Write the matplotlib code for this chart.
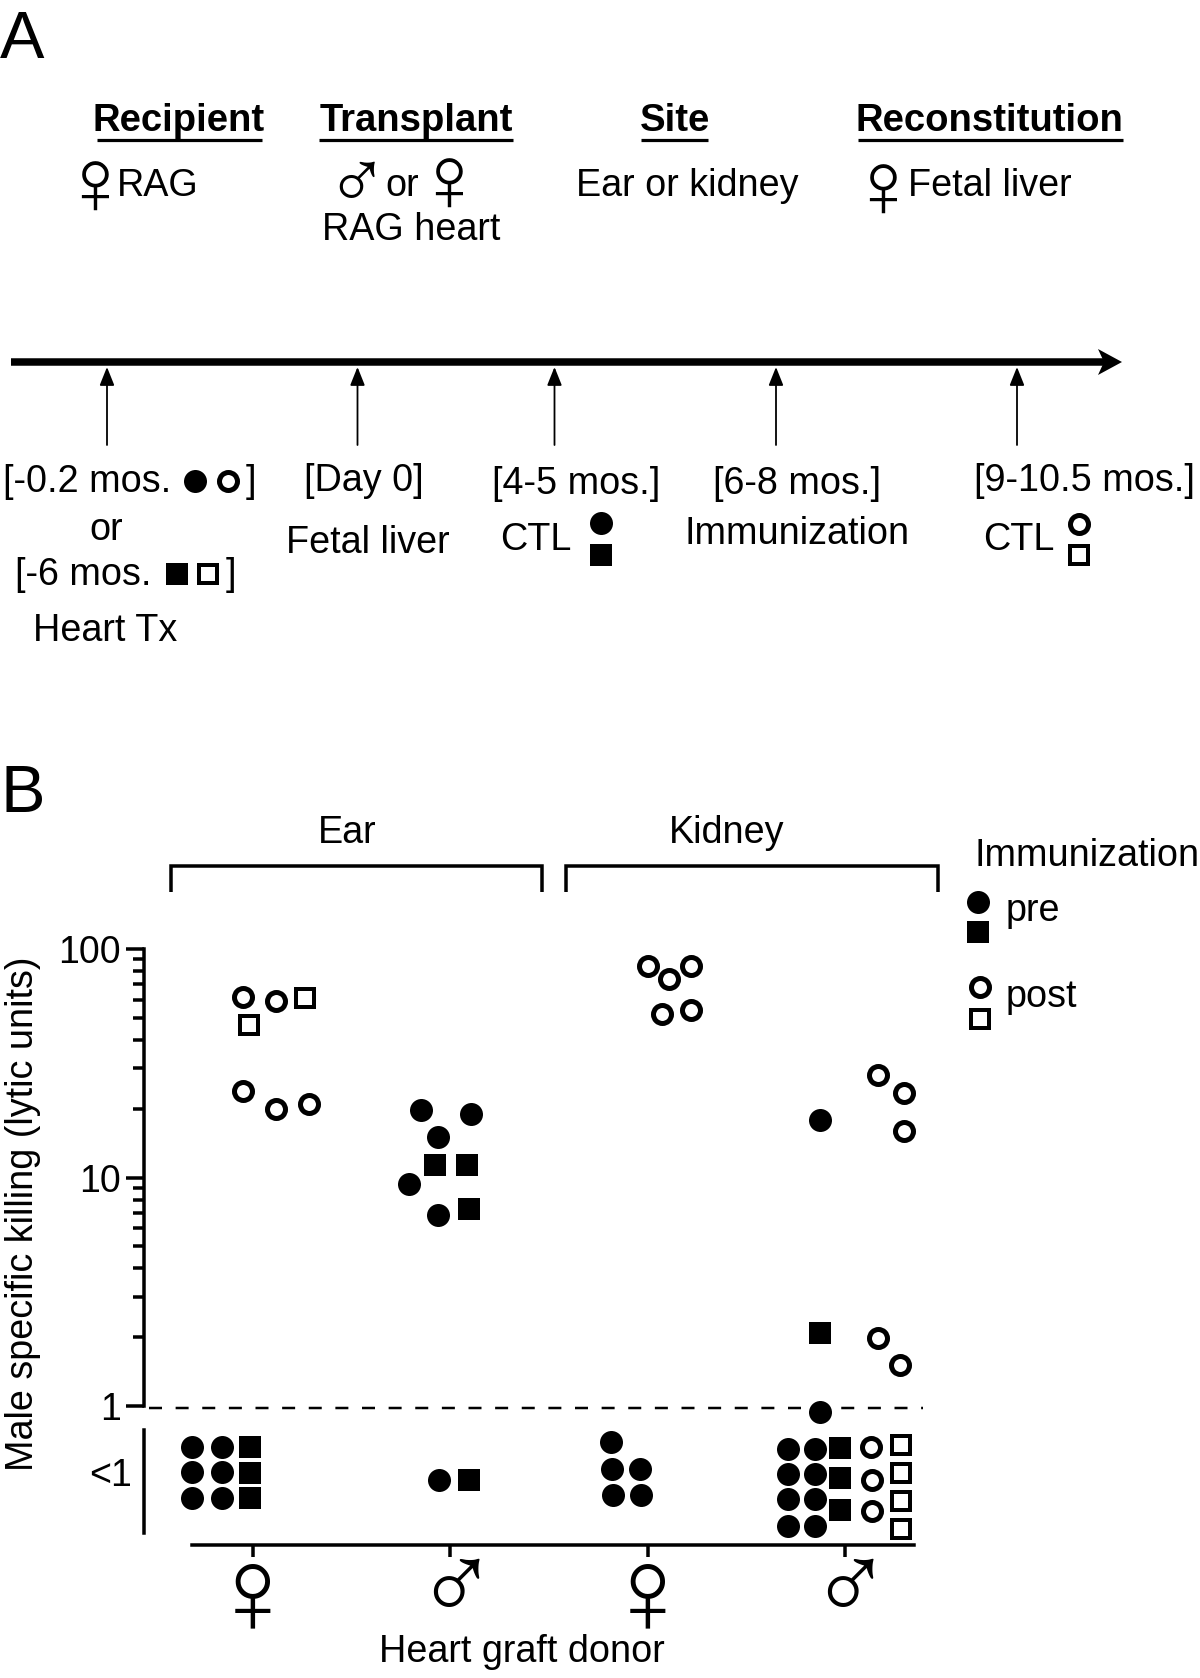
import matplotlib
matplotlib.use("Agg")
import matplotlib.pyplot as plt
from matplotlib.patches import Polygon
from matplotlib.ticker import FixedLocator, FixedFormatter, NullFormatter, LogLocator

plt.rcParams['font.family'] = ['Liberation Sans', 'DejaVu Sans']

W, H = 1200, 1678
FS = 27.2
PX = 0.72  # one pixel in points at dpi 100

# panel B values, x = donor group (0..3) + jitter, y = lytic units
donors = ["\u2640", "\u2642", "\u2640", "\u2642"]
y_ticks = [1, 10, 100]
y_ticklabels = ["1", "10", "100"]

pre_circle_x = [0.851, 1.105, 0.938, 0.791, 0.938, 2.874, 2.874]
pre_circle_y = [19.7, 19.0, 15.0, 9.4, 6.85, 17.9, 0.94]
pre_square_x = [0.922, 1.085, 1.095, 2.874]
pre_square_y = [11.3, 11.3, 7.28, 2.09]
post_circle_x = [-0.051, 0.117, -0.051, 0.117, 0.284, 2.002, 2.22, 2.108, 2.073, 2.22,
                 3.168, 3.3, 3.3, 3.168, 3.279]
post_circle_y = [61.7, 59.2, 23.9, 19.9, 21.0, 84.3, 84.3, 73.9, 52, 54,
                 28.1, 23.4, 16, 1.98, 1.51]
post_square_x = [0.264, -0.02]
post_square_y = [61.1, 46.5]

# below detection limit (<1)
low_pre_circle_x = [-0.309, -0.157, -0.309, -0.157, -0.309, -0.157, 0.943,
                    1.814, 1.82, 1.961, 1.825, 1.967,
                    2.712, 2.848, 2.712, 2.848, 2.712, 2.848, 2.712, 2.848]
low_pre_circle_y = [0.662, 0.662, 0.514, 0.514, 0.396, 0.396, 0.474,
                    0.696, 0.53, 0.53, 0.408, 0.408,
                    0.648, 0.648, 0.504, 0.504, 0.392, 0.392, 0.298, 0.298]
low_pre_square_x = [-0.015, -0.015, -0.015, 1.095, 2.975, 2.975, 2.975]
low_pre_square_y = [0.662, 0.509, 0.396, 0.474, 0.655, 0.484, 0.351]
low_post_circle_x = [3.132, 3.137, 3.137]
low_post_circle_y = [0.662, 0.474, 0.347]
low_post_square_x = [3.284, 3.284, 3.284, 3.284]
low_post_square_y = [0.675, 0.509, 0.384, 0.290]

# panel A timeline
event_x = [107, 357.5, 554.5, 776, 1017]

filled_c = dict(marker='o', ms=23 * PX, mfc='k', mec='k', mew=0, ls='none', clip_on=False)
filled_s = dict(marker='s', ms=22 * PX, mfc='k', mec='k', mew=0, ls='none', clip_on=False)
open_c = dict(marker='o', ms=18 * PX, mfc='none', mec='k', mew=5 * PX, ls='none', clip_on=False)
open_s = dict(marker='s', ms=18 * PX, mfc='none', mec='k', mew=4 * PX, ls='none', clip_on=False)


def add_ax(left, top, right, bottom):
    return fig.add_axes([left / W, 1 - bottom / H, (right - left) / W, (bottom - top) / H])


def label(x, y, s, **kw):
    over.text(x, y, s, fontsize=kw.pop('fontsize', FS), va='baseline', **kw)


def symbol(x, y, s, size):
    over.text(x, y, s, fontsize=size, ha='center', va='center_baseline')


fig = plt.figure(figsize=(W / 100, H / 100), dpi=100)

over = add_ax(0, 0, W, H)
over.set_xlim(0, W)
over.set_ylim(H, 0)
over.axis('off')

# panel A
label(0, 58, "A", fontsize=48)
headers = [(179, "Recipient", 96.5, 262), (416, "Transplant", 319, 513),
           (675, "Site", 641, 708), (989, "Reconstitution", 858, 1123)]
for cx, s, x0, x1 in headers:
    label(cx, 131, s, ha='center', fontweight='bold', fontsize=27.5)
    over.plot([x0, x1], [140, 140], color='k', lw=3.2 * PX, solid_capstyle='butt')

symbol(95, 180, "\u2640", 68)
label(117, 196, "RAG")
symbol(357, 177, "\u2642", 60)
label(385, 196, "or")
symbol(449, 177, "\u2640", 68)
label(322, 240, "RAG heart")
label(576, 196, "Ear or kidney")
symbol(883, 183, "\u2640", 68)
label(908, 196, "Fetal liver")

over.plot([11, 1112], [362, 362], color='k', lw=7.5 * PX, solid_capstyle='butt')
over.add_patch(Polygon([(1122, 362), (1098, 349), (1104, 362), (1098, 375)], fc='k', ec='none'))
for x in event_x:
    over.annotate("", xy=(x, 367), xytext=(x, 445),
                  arrowprops=dict(arrowstyle="-|>,head_length=0.8,head_width=0.32", color='k',
                                  lw=1.8 * PX, shrinkA=0, shrinkB=0, mutation_scale=14))

label(3, 492.5, "[-0.2 mos.")
over.plot(195, 481, **filled_c)
over.plot(228, 481, **open_c)
label(246, 492.5, "]")
label(106, 540.5, "or", ha='center')
label(15, 585, "[-6 mos.")
over.plot(177, 574, **filled_s)
over.plot(208, 574, **open_s)
label(226, 585, "]")
label(33, 641, "Heart Tx")
label(304, 491, "[Day 0]")
label(286, 553, "Fetal liver")
label(492, 494, "[4-5 mos.]")
label(500, 550, "CTL")
over.plot(601, 523, **filled_c)
over.plot(601, 555, **filled_s)
label(713, 494, "[6-8 mos.]")
label(684, 544, "Immunization")
label(974, 491, "[9-10.5 mos.]")
label(983, 550, "CTL")
over.plot(1079, 524, **open_c)
over.plot(1079, 555, **open_s)

# panel B annotations
label(0, 812, "B", fontsize=48)
label(347, 843, "Ear", ha='center')
label(727, 843, "Kidney", ha='center')
for x0, x1 in [(171, 542), (566, 938)]:
    over.plot([x0, x0, x1, x1], [892, 866, 866, 892], color='k', lw=3.5 * PX,
              solid_joinstyle='miter', solid_capstyle='butt')
label(974, 866, "Immunization")
over.plot(978, 902, **filled_c)
over.plot(978, 932, **filled_s)
label(1006, 921, "pre")
over.plot(980, 987, **open_c)
over.plot(980, 1019, **open_s)
label(1006, 1007, "post")
label(522, 1662, "Heart graft donor", ha='center')

# panel B data
xlim = ((144 - 253) / 197.3, (916 - 253) / 197.3)

ax = add_ax(144, 949, 916, 1406)
ax.patch.set_alpha(0)
ax.set_yscale('log')
ax.set_xlim(xlim)
ax.set_ylim(1, 100)
ax.plot(pre_circle_x, pre_circle_y, **filled_c, zorder=4)
ax.plot(pre_square_x, pre_square_y, **filled_s, zorder=4)
ax.plot(post_circle_x, post_circle_y, **open_c, zorder=4)
ax.plot(post_square_x, post_square_y, **open_s, zorder=4)
ax.hlines(0.976, -0.527, 3.395, color='k', lw=2.5 * PX, linestyles=(0, (5.2, 5.45)), clip_on=False)
for s in ['top', 'right', 'bottom']:
    ax.spines[s].set_visible(False)
ax.spines['left'].set_linewidth(3.5 * PX)
ax.set_xticks([])
ax.yaxis.set_major_locator(FixedLocator(y_ticks))
ax.yaxis.set_major_formatter(FixedFormatter(y_ticklabels))
ax.yaxis.set_minor_locator(LogLocator(base=10, subs=range(2, 10)))
ax.yaxis.set_minor_formatter(NullFormatter())
ax.tick_params(axis='y', which='major', length=18 * PX, width=3.5 * PX, labelsize=27, pad=5 * PX)
ax.tick_params(axis='y', which='minor', length=11 * PX, width=3.5 * PX)
ax.set_ylabel("Male specific killing (lytic units)", fontsize=FS)
ax.yaxis.set_label_coords((41 - 144) / 772, 1 - (1214 - 949) / 457)

low = add_ax(144, 1406, 916, 1545)
low.patch.set_alpha(0)
low.set_yscale('log')
low.set_xlim(xlim)
low.set_ylim(0.2465, 1)
low.plot(low_pre_circle_x, low_pre_circle_y, **filled_c, zorder=4)
low.plot(low_pre_square_x, low_pre_square_y, **filled_s, zorder=4)
low.plot(low_post_circle_x, low_post_circle_y, **open_c, zorder=4)
low.plot(low_post_square_x, low_post_square_y, **open_s, zorder=4)
for s in ['top', 'right']:
    low.spines[s].set_visible(False)
low.spines['left'].set_linewidth(3.5 * PX)
low.spines['left'].set_bounds(0.278, 0.785)
low.spines['bottom'].set_linewidth(3.5 * PX)
low.spines['bottom'].set_bounds(-0.31, 3.35)
low.yaxis.set_major_locator(FixedLocator([0.514]))
low.yaxis.set_major_formatter(FixedFormatter(["<1"]))
low.yaxis.set_minor_locator(FixedLocator([]))
low.tick_params(axis='y', length=0, labelsize=27, pad=12 * PX)
low.set_xticks(range(4))
low.set_xticklabels([""] * 4)
low.tick_params(axis='x', length=12 * PX, width=3.5 * PX)

symbol(253, 1588, donors[0], 88)
symbol(456, 1581, donors[1], 78)
symbol(648, 1588, donors[2], 88)
symbol(850, 1581, donors[3], 78)

fig.savefig("out.png", dpi=100)
